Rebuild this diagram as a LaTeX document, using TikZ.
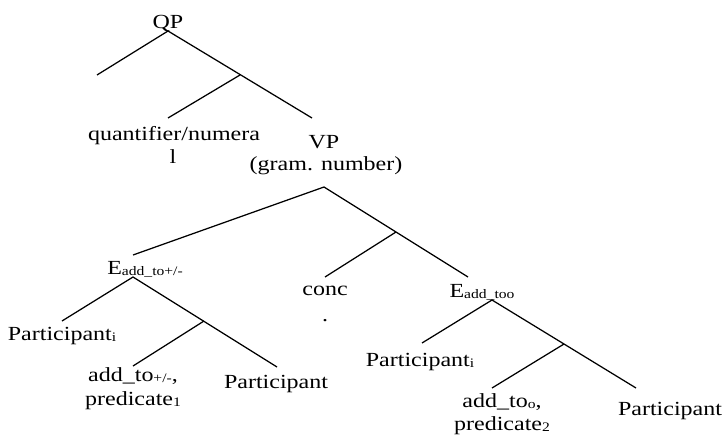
\documentclass[tikz,border=0pt]{standalone}
\usepackage{fontspec}
\setmainfont{Liberation Serif}[FakeStretch=1.2]
\newcommand{\sbx}[1]{\raisebox{-1.5pt}{\fontsize{13}{13}\selectfont #1}}
\begin{document}
\begin{tikzpicture}[x=1pt,y=-1pt,
  lbl/.style={anchor=base,inner sep=0pt,font=\fontsize{20}{24}\selectfont},
  br/.style={line width=1.25pt}]
\useasboundingbox (0,0) rectangle (727,434);
% labels
\node[lbl] (qp) at (168,28) {QP};
\node[lbl] (qn1) at (174,140) {quantifier/numera};
\node[lbl] (qn2) at (173,163) {l};
\node[lbl] (vp1) at (324,148) {VP};
\node[lbl] (vp2) at (326,170) {(gram. number)};
\node[lbl] (e1) at (145,274) {E\sbx{add\_to+/-}};
\node[lbl] (conc1) at (325,295) {conc};
\node[lbl] (conc2) at (325,321) {.};
\node[lbl] (e2) at (482,297) {E\sbx{add\_too}};
\node[lbl] (pa1) at (62,340) {Participant\sbx{i}};
\node[lbl] (ad1) at (133,381) {add\_to\sbx{+/-},};
\node[lbl] (pr1) at (133,405) {predicate\sbx{1}};
\node[lbl] (pb1) at (276,388) {Participant};
\node[lbl] (pa2) at (420,366) {Participant\sbx{i}};
\node[lbl] (ad2) at (502,407) {add\_to\sbx{o},};
\node[lbl] (pr2) at (502,430) {predicate\sbx{2}};
\node[lbl] (pb2) at (670,415) {Participant};
% junctions
\coordinate (qpa) at (168,31);
\coordinate (qpl) at (97,75);
\coordinate (qpm) at (240,75);
\coordinate (qnt) at (168,118);
\coordinate (vpt) at (312,118);
\coordinate (vpa) at (324,187);
\coordinate (e1t) at (133,255);
\coordinate (vpm) at (396,232);
\coordinate (conct) at (325,277);
\coordinate (e2t) at (468,277);
\coordinate (e1a) at (133,277);
\coordinate (pa1t) at (62,321);
\coordinate (e1m) at (204,321);
\coordinate (ad1t) at (133,366);
\coordinate (pb1t) at (277,367);
\coordinate (e2a) at (492,300);
\coordinate (pa2t) at (422,343);
\coordinate (e2m) at (564,344);
\coordinate (ad2t) at (492,388);
\coordinate (pb2t) at (636,388);
% branches
\draw[br] (qpl) -- (qpa) -- (vpt);
\draw[br] (qpm) -- (qnt);
\draw[br] (e1t) -- (vpa) -- (e2t);
\draw[br] (vpm) -- (conct);
\draw[br] (pa1t) -- (e1a) -- (pb1t);
\draw[br] (e1m) -- (ad1t);
\draw[br] (pa2t) -- (e2a) -- (pb2t);
\draw[br] (e2m) -- (ad2t);
\end{tikzpicture}
\end{document}
